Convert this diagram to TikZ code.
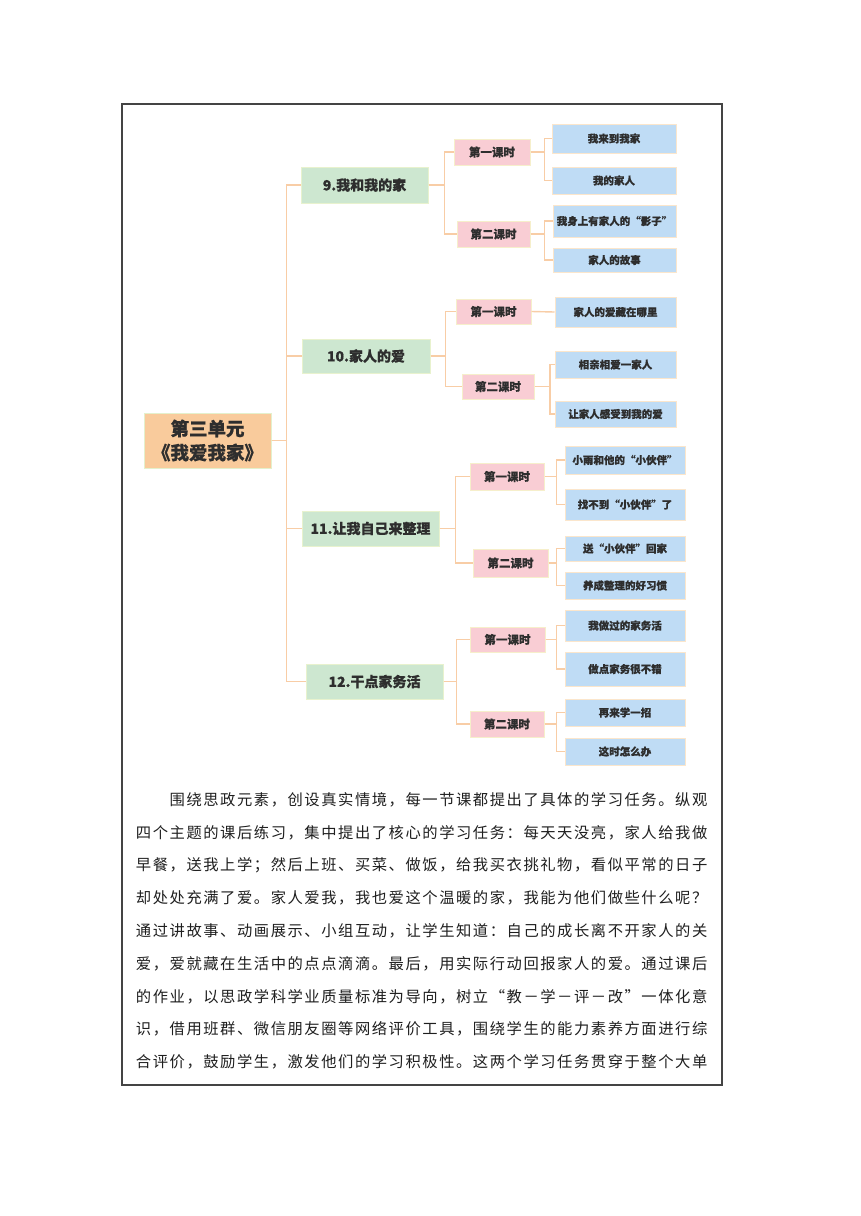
\documentclass[tikz,border=0pt]{standalone}
\usepackage{fontspec}
\newfontfamily\cjk{Noto Sans CJK SC}
\newfontfamily\cjkh{Noto Sans CJK SC}[BoldFeatures={FakeBold=0.6}]
\makeatletter
\newlength\cellw \setlength\cellw{16.85pt}
\newcommand\evenline[1]{\@tfor\mych:=#1\do{\makebox[\cellw][c]{\mych}}}
\makeatother
\definecolor{txt}{HTML}{2E2E2E}
\definecolor{rootfill}{HTML}{F9CB9C}
\definecolor{rootdraw}{HTML}{E4F0CC}
\definecolor{topicfill}{HTML}{CDE7D0}
\definecolor{topicdraw}{HTML}{E8F2CE}
\definecolor{lessonfill}{HTML}{F9CDD4}
\definecolor{lessondraw}{HTML}{F6EFCB}
\definecolor{leaffill}{HTML}{BFDCF5}
\definecolor{leafdraw}{HTML}{FBE6CC}
\definecolor{connc}{HTML}{F8CDA6}
\definecolor{framec}{HTML}{444444}
\tikzset{
  basebox/.style={rectangle, inner sep=0pt, line width=1pt, text=txt, align=center},
  rootbox/.style={basebox, fill=rootfill, draw=rootdraw, font=\cjkh\bfseries\fontsize{18.5}{24}\selectfont},
  topic/.style={basebox, fill=topicfill, draw=topicdraw, font=\cjkh\bfseries\fontsize{14}{16}\selectfont},
  lesson/.style={basebox, fill=lessonfill, draw=lessondraw, font=\cjkh\bfseries\fontsize{11.5}{13}\selectfont},
  leaf/.style={basebox, fill=leaffill, draw=leafdraw, font=\cjkh\bfseries\fontsize{10.5}{12}\selectfont},
  conn/.style={draw=connc, line width=1.4pt},
  para/.style={anchor=west, inner sep=0pt, text=black!88, font=\cjk\fontsize{15.3}{17}\selectfont}
}
\begin{document}
\begin{tikzpicture}[x=1pt, y=-1pt]
\useasboundingbox (0,0) rectangle (860,1216);
\fill[white] (0,0) rectangle (860,1216);
\draw[framec, line width=1.2pt] (122,104) rectangle (722,1085);

% root
\node[rootbox, minimum width=127pt, minimum height=55pt] (root) at (207.5,440.5) {第三单元\\《我爱我家》};

% topics
\node[topic, minimum width=127pt, minimum height=36pt] (t9) at (364.5,185) {9.我和我的家};
\node[topic, minimum width=128pt, minimum height=34pt] (t10) at (366,356) {10.家人的爱};
\node[topic, minimum width=137pt, minimum height=35pt] (t11) at (370.5,528.5) {11.让我自己来整理};
\node[topic, minimum width=137pt, minimum height=35pt] (t12) at (374.5,681.5) {12.干点家务活};

% lessons
\node[lesson, minimum width=76pt, minimum height=26pt] (l9a) at (492,152) {第一课时};
\node[lesson, minimum width=73pt, minimum height=26pt] (l9b) at (493.5,234) {第二课时};
\node[lesson, minimum width=75pt, minimum height=25pt] (l10a) at (493.5,311.5) {第一课时};
\node[lesson, minimum width=72pt, minimum height=25pt] (l10b) at (498,386.5) {第二课时};
\node[lesson, minimum width=74pt, minimum height=27pt] (l11a) at (507,476.5) {第一课时};
\node[lesson, minimum width=75pt, minimum height=28pt] (l11b) at (510.5,563) {第二课时};
\node[lesson, minimum width=75pt, minimum height=25pt] (l12a) at (507.5,639.5) {第一课时};
\node[lesson, minimum width=74pt, minimum height=26pt] (l12b) at (507,724) {第二课时};

% leaves
\node[leaf, minimum width=124pt, minimum height=29pt] (a1) at (614,138.5) {我来到我家};
\node[leaf, minimum width=124pt, minimum height=27pt] (a2) at (614,180.5) {我的家人};
\node[leaf, minimum width=123pt, minimum height=32pt] (a3) at (614.5,221) {我身上有家人的“影子”};
\node[leaf, minimum width=123pt, minimum height=24pt] (a4) at (614.5,260) {家人的故事};
\node[leaf, minimum width=121pt, minimum height=30pt] (b1) at (615.5,312) {家人的爱藏在哪里};
\node[leaf, minimum width=121pt, minimum height=27pt] (b2) at (615.5,364.5) {相亲相爱一家人};
\node[leaf, minimum width=121pt, minimum height=26pt] (b3) at (615.5,414) {让家人感受到我的爱};
\node[leaf, minimum width=120pt, minimum height=28pt] (c1) at (625,460) {小雨和他的“小伙伴”};
\node[leaf, minimum width=120pt, minimum height=31pt] (c2) at (625,504.5) {找不到“小伙伴”了};
\node[leaf, minimum width=120pt, minimum height=25pt] (c3) at (625,548.5) {送“小伙伴”回家};
\node[leaf, minimum width=120pt, minimum height=27pt] (c4) at (625,585.5) {养成整理的好习惯};
\node[leaf, minimum width=120pt, minimum height=31pt] (d1) at (625,625.5) {我做过的家务活};
\node[leaf, minimum width=120pt, minimum height=34pt] (d2) at (625,669) {做点家务很不错};
\node[leaf, minimum width=120pt, minimum height=27pt] (d3) at (625,712.5) {再来学一招};
\node[leaf, minimum width=120pt, minimum height=27pt] (d4) at (625,751.5) {这时怎么办};

% connectors root -> topics
\foreach \t in {t9,t10,t11,t12}
  \draw[conn] (root.east) -- ++(15,0) |- (\t.west);
% topics -> lessons
\draw[conn] (t9.east) -- ++(16,0) |- (l9a.west);
\draw[conn] (t9.east) -- ++(16,0) |- (l9b.west);
\draw[conn] (t10.east) -- ++(15,0) |- (l10a.west);
\draw[conn] (t10.east) -- ++(15,0) |- (l10b.west);
\draw[conn] (t11.east) -- ++(16,0) |- (l11a.west);
\draw[conn] (t11.east) -- ++(16,0) |- (l11b.west);
\draw[conn] (t12.east) -- ++(13,0) |- (l12a.west);
\draw[conn] (t12.east) -- ++(13,0) |- (l12b.west);
% lessons -> leaves
\draw[conn] (l9a.east) -- ++(14,0) |- (a1.west);
\draw[conn] (l9a.east) -- ++(14,0) |- (a2.west);
\draw[conn] (l9b.east) -- ++(14,0) |- (a3.west);
\draw[conn] (l9b.east) -- ++(14,0) |- (a4.west);
\draw[conn] (l10a.east) -- (b1.west);
\draw[conn] (l10b.east) -- ++(15.5,0) |- (b2.west);
\draw[conn] (l10b.east) -- ++(15.5,0) |- (b3.west);
\draw[conn] (l11a.east) -- ++(12,0) |- (c1.west);
\draw[conn] (l11a.east) -- ++(12,0) |- (c2.west);
\draw[conn] (l11b.east) -- ++(8,0) |- (c3.west);
\draw[conn] (l11b.east) -- ++(8,0) |- (c4.west);
\draw[conn] (l12a.east) -- ++(11,0) |- (d1.west);
\draw[conn] (l12a.east) -- ++(11,0) |- (d2.west);
\draw[conn] (l12b.east) -- ++(12,0) |- (d3.west);
\draw[conn] (l12b.east) -- ++(12,0) |- (d4.west);

% paragraph
\node[para] (p1) at (168.7,800) {\evenline{围绕思政元素，创设真实情境，每一节课都提出了具体的学习任务。纵观}};
\node[para] (p2) at (135,832.75) {\evenline{四个主题的课后练习，集中提出了核心的学习任务：每天天没亮，家人给我做}};
\node[para] (p3) at (135,865.5) {\evenline{早餐，送我上学；然后上班、买菜、做饭，给我买衣挑礼物，看似平常的日子}};
\node[para] (p4) at (135,898.25) {\evenline{却处处充满了爱。家人爱我，我也爱这个温暖的家，我能为他们做些什么呢？}};
\node[para] (p5) at (135,931) {\evenline{通过讲故事、动画展示、小组互动，让学生知道：自己的成长离不开家人的关}};
\node[para] (p6) at (135,963.75) {\evenline{爱，爱就藏在生活中的点点滴滴。最后，用实际行动回报家人的爱。通过课后}};
\node[para] (p7) at (135,996.5) {\evenline{的作业，以思政学科学业质量标准为导向，树立“教－学－评－改”一体化意}};
\node[para] (p8) at (135,1029.25) {\evenline{识，借用班群、微信朋友圈等网络评价工具，围绕学生的能力素养方面进行综}};
\node[para] (p9) at (135,1062) {\evenline{合评价，鼓励学生，激发他们的学习积极性。这两个学习任务贯穿于整个大单}};
\end{tikzpicture}
\end{document}
